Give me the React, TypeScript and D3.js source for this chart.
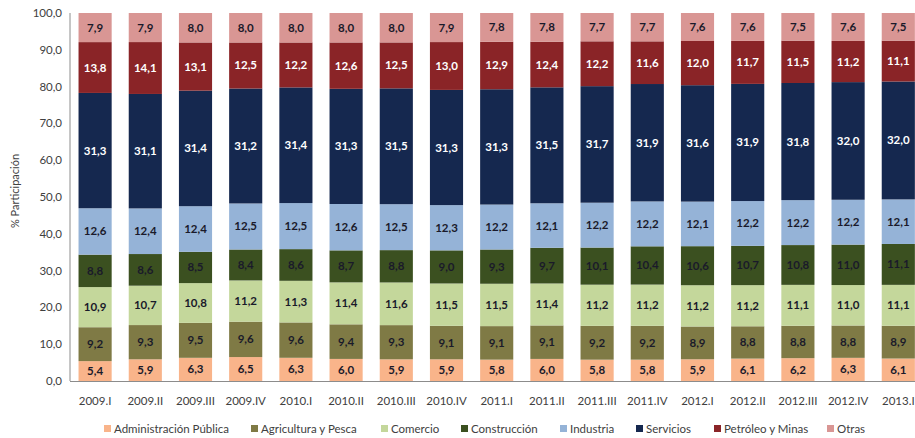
import React from "react";
import * as d3 from "d3";

const categories = ["2009.I","2009.II","2009.III","2009.IV","2010.I","2010.II","2010.III","2010.IV","2011.I","2011.II","2011.III","2011.IV","2012.I","2012.II","2012.III","2012.IV","2013.I"];
const seriesNames = ["Administración Pública","Agricultura y Pesca","Comercio","Construcción","Industria","Servicios","Petróleo y Minas","Otras"];
const administracion = [5.4,5.9,6.3,6.5,6.3,6.0,5.9,5.9,5.8,6.0,5.8,5.8,5.9,6.1,6.2,6.3,6.1];
const agricultura = [9.2,9.3,9.5,9.6,9.6,9.4,9.3,9.1,9.1,9.1,9.2,9.2,8.9,8.8,8.8,8.8,8.9];
const comercio = [10.9,10.7,10.8,11.2,11.3,11.4,11.6,11.5,11.5,11.4,11.2,11.2,11.2,11.2,11.1,11.0,11.1];
const construccion = [8.8,8.6,8.5,8.4,8.6,8.7,8.8,9.0,9.3,9.7,10.1,10.4,10.6,10.7,10.8,11.0,11.1];
const industria = [12.6,12.4,12.4,12.5,12.5,12.6,12.5,12.3,12.2,12.1,12.2,12.2,12.1,12.2,12.2,12.2,12.1];
const servicios = [31.3,31.1,31.4,31.2,31.4,31.3,31.5,31.3,31.3,31.5,31.7,31.9,31.6,31.9,31.8,32.0,32.0];
const petroleo = [13.8,14.1,13.1,12.5,12.2,12.6,12.5,13.0,12.9,12.4,12.2,11.6,12.0,11.7,11.5,11.2,11.1];
const otras = [7.9,7.9,8.0,8.0,8.0,8.0,8.0,7.9,7.8,7.8,7.7,7.7,7.6,7.6,7.5,7.6,7.5];
const yTicks = [0,10,20,30,40,50,60,70,80,90,100];

const seriesValues = [administracion, agricultura, comercio, construccion, industria, servicios, petroleo, otras];
const colors = ["#F9B48A","#7F7A45","#C4D79B","#3B5020","#95B3D7","#15284F","#8A2427","#D99694"];
const labelColors = ["#1a1a2a","#1a1a2a","#1a1a2a","#1a1a2a","#1a1a2a","#ffffff","#ffffff","#1a1a2a"];

const FONT = "Lato, 'Open Sans', sans-serif";

export default function App() {
  const W = 915, H = 438;
  const left = 70, top = 13, bottom = 381;
  const x = d3.scaleBand<string>().domain(categories).range([left, left + 17 * 50.2]).paddingInner(0.34).paddingOuter(0.17);
  const y = d3.scaleLinear().domain([0, 1]).range([bottom, top]);
  const yAxisScale = d3.scaleLinear().domain([0, 100]).range([bottom, top]);

  const rows = categories.map((c, i) => {
    const r: any = { cat: c };
    seriesNames.forEach((s, k) => (r[s] = seriesValues[k][i]));
    return r;
  });
  const stack = d3.stack<any>().keys(seriesNames).offset(d3.stackOffsetExpand);
  const stacked = stack(rows);

  const fmt = (v: number) => v.toFixed(1).replace(".", ",");

  const legendX = [104, 251, 381, 461, 560, 636, 714, 827];

  return (
    <svg width={W} height={H} style={{ position: "absolute", left: 0, top: 0, background: "#fff" }}>
      {stacked.map((layer, k) => (
        <g key={layer.key}>
          {layer.map((d, i) => (
            <rect key={i} x={x(categories[i])} width={x.bandwidth()} y={y(d[1])} height={y(d[0]) - y(d[1])} fill={colors[k]} />
          ))}
        </g>
      ))}
      {stacked.map((layer, k) => (
        <g key={"l" + layer.key}>
          {layer.map((d, i) => (
            <text key={i} x={(x(categories[i]) as number) + x.bandwidth() / 2} y={(y(d[0]) + y(d[1])) / 2 + 4}
              textAnchor="middle" fontFamily={FONT} fontWeight={700} fontSize={11.5} fill={labelColors[k]}>
              {fmt(seriesValues[k][i])}
            </text>
          ))}
        </g>
      ))}
      <line x1={left} x2={left} y1={top} y2={bottom} stroke="#8c8c8c" strokeWidth={1} />
      <line x1={left} x2={W} y1={bottom + 0.5} y2={bottom + 0.5} stroke="#8c8c8c" strokeWidth={1} />
      {yTicks.map((t) => (
        <text key={t} x={62} y={yAxisScale(t) + 4} textAnchor="end" fontFamily={FONT} fontSize={11.5} fill="#404040">
          {fmt(t)}
        </text>
      ))}
      <text transform={`translate(19,191) rotate(-90)`} textAnchor="middle" fontFamily={FONT} fontSize={11} fill="#404040">
        % Participación
      </text>
      {categories.map((c) => (
        <text key={c} x={(x(c) as number) + x.bandwidth() / 2} y={405} textAnchor="middle" fontFamily={FONT} fontSize={11.5} fill="#404040">
          {c}
        </text>
      ))}
      {seriesNames.map((s, k) => (
        <g key={s}>
          <rect x={legendX[k]} y={425} width={7} height={7} fill={colors[k]} />
          <text x={legendX[k] + 10} y={433} fontFamily={FONT} fontSize={11.5} fill="#404040">{s}</text>
        </g>
      ))}
    </svg>
  );
}
